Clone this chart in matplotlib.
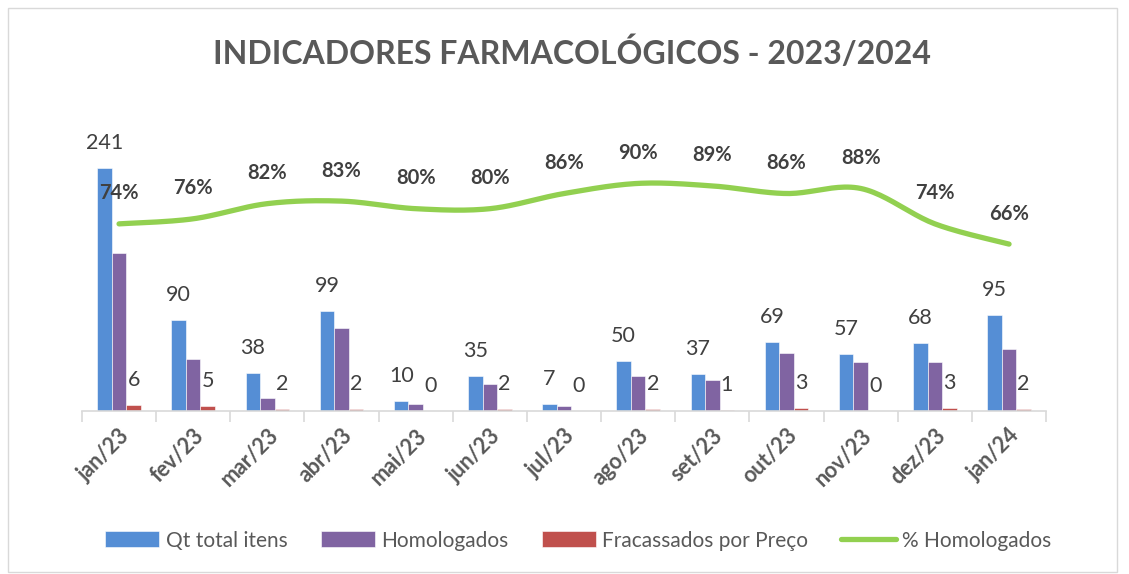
import numpy as np
import matplotlib
matplotlib.use('Agg')
from matplotlib import pyplot as plt
from matplotlib.patches import Rectangle

# Data
months = ['jan/23', 'fev/23', 'mar/23', 'abr/23', 'mai/23', 'jun/23', 'jul/23',
          'ago/23', 'set/23', 'out/23', 'nov/23', 'dez/23', 'jan/24']
total_itens = [241, 90, 38, 99, 10, 35, 7, 50, 37, 69, 57, 68, 95]
homologados = [157, 52, 13, 82, 7, 27, 5, 35, 31, 58, 49, 49, 62]
fracassados = [6, 5, 2, 2, 0, 2, 0, 2, 1, 3, 0, 3, 2]
pct_homologados = [74, 76, 82, 83, 80, 80, 86, 90, 89, 86, 88, 74, 66]

BLUE = '#558ED5'
PURPLE = '#8064A2'
RED = '#C0504D'
GREEN = '#92D050'
TXT = '#404040'
GRID = '#D9D9D9'

plt.rcParams['font.family'] = ['Lato', 'DejaVu Sans']


def smooth(x, y, n=24):
    """Catmull-Rom curve through the points (just for the look of the excel line)"""
    x = np.asarray(x, float)
    y = np.asarray(y, float)
    px = np.concatenate([[x[0]], x, [x[-1]]])
    py = np.concatenate([[y[0]], y, [y[-1]]])
    xs, ys = [], []
    for i in range(1, len(px) - 2):
        t = np.linspace(0, 1, n)
        for p, out in ((px, xs), (py, ys)):
            p0, p1, p2, p3 = p[i - 1], p[i], p[i + 1], p[i + 2]
            out.extend(0.5 * ((2 * p1) + (-p0 + p2) * t +
                              (2 * p0 - 5 * p1 + 4 * p2 - p3) * t ** 2 +
                              (-p0 + 3 * p1 - 3 * p2 + p3) * t ** 3))
    return xs, ys


fig = plt.figure(figsize=(11.29, 5.74), dpi=100)
fig.patches.append(Rectangle((0.007, 0.003), 0.982, 0.983, transform=fig.transFigure,
                             fill=False, edgecolor=GRID, linewidth=1))

ax = fig.add_axes([0.0726, 0.284, 0.854, 0.526])
x = np.arange(len(months))
w = 0.196

b1 = ax.bar(x - w, total_itens, w, color=BLUE, edgecolor='white', linewidth=0.4,
            label='Qt total itens')
b2 = ax.bar(x, homologados, w, color=PURPLE, edgecolor='white', linewidth=0.4,
            label='Homologados')
b3 = ax.bar(x + w, fracassados, w, color=RED, edgecolor='white', linewidth=0.4,
            label='Fracassados por Preço')

for xi, v in zip(x, total_itens):
    ax.annotate(str(v), (xi - w, v), xytext=(0, 18), textcoords='offset points',
                ha='center', va='center', fontsize=15.5, color=TXT)
for xi, v in zip(x, fracassados):
    ax.annotate(str(v), (xi + w, v), xytext=(0, 18), textcoords='offset points',
                ha='center', va='center', fontsize=15.5, color=TXT)

ax.set_xlim(-0.5, len(months) - 0.5)
ax.set_ylim(0, 300)
ax.set_yticks([])
for s in ['left', 'right', 'top']:
    ax.spines[s].set_visible(False)
ax.spines['bottom'].set_color(GRID)
ax.spines['bottom'].set_linewidth(1.2)
ax.set_xticks(x)
ax.set_xticklabels(months, rotation=45, ha='right', rotation_mode='anchor',
                   fontsize=15.5, fontweight='bold', color='#595959')
ax.tick_params(axis='x', which='major', length=0, pad=10)
ax.set_xticks(np.arange(-0.5, len(months)), minor=True)
ax.tick_params(axis='x', which='minor', length=8, color=GRID, width=1.2)

ax2 = ax.twinx()
sx, sy = smooth(x, pct_homologados)
line, = ax2.plot(sx, sy, color=GREEN, linewidth=3.8, solid_capstyle='round',
                 label='% Homologados')
for xi, v in zip(x, pct_homologados):
    ax2.annotate(f'{v}%', (xi, v), xytext=(0, 22), textcoords='offset points',
                 ha='center', va='center', fontsize=14.5, fontweight='bold', color=TXT)
ax2.set_ylim(0, 119.4)
ax2.set_yticks([])
for s in ax2.spines.values():
    s.set_visible(False)

fig.text(0.507, 0.908, 'INDICADORES FARMACOLÓGICOS - 2023/2024', ha='center',
         va='center', fontsize=23, fontweight='bold', color='#595959')

fig.legend([b1, b2, b3, line],
           ['Qt total itens', 'Homologados', 'Fracassados por Preço', '% Homologados'],
           loc='center', bbox_to_anchor=(0.512, 0.058), ncol=4, frameon=False,
           fontsize=15, labelcolor='#595959', handlelength=2.6, handleheight=0.8,
           handletextpad=0.3, columnspacing=1.6)

plt.savefig('out.png', dpi=100)
